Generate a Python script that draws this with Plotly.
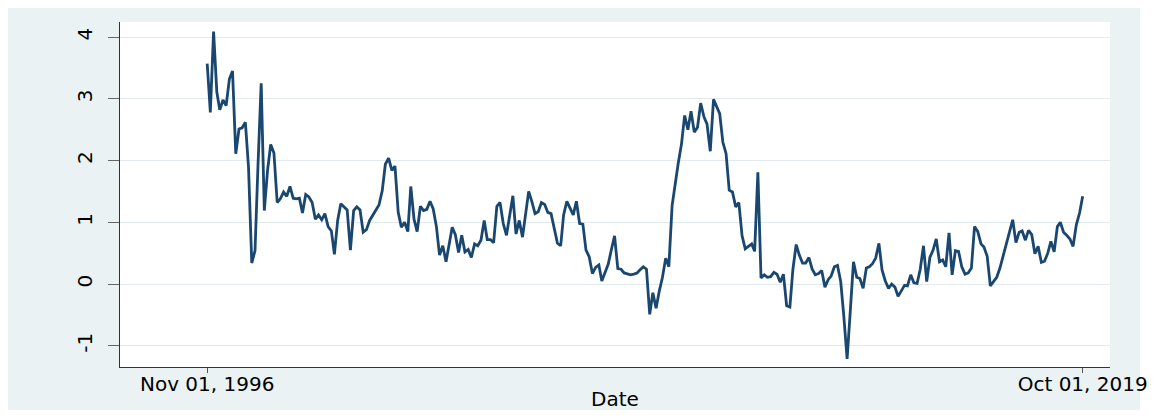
import pandas as pd
import plotly.graph_objects as go

# ---- data (monthly, Nov 1996 .. Oct 2019) ----
start_date = "1996-11-01"
values = [
    3.57, 2.78, 4.09, 3.11, 2.82, 2.98, 2.89, 3.32, 3.45, 2.11,
    2.51, 2.53, 2.62, 1.89, 0.34, 0.54, 1.90, 3.25, 1.19, 1.84,
    2.26, 2.12, 1.32, 1.38, 1.49, 1.42, 1.58, 1.39, 1.38, 1.39,
    1.15, 1.45, 1.41, 1.32, 1.05, 1.12, 1.04, 1.14, 0.93, 0.86,
    0.48, 1.03, 1.30, 1.24, 1.20, 0.55, 1.19, 1.25, 1.20, 0.84,
    0.88, 1.03, 1.11, 1.19, 1.28, 1.51, 1.94, 2.04, 1.84, 1.91,
    1.16, 0.92, 1.00, 0.85, 1.58, 1.05, 0.85, 1.26, 1.19, 1.21,
    1.34, 1.22, 0.93, 0.47, 0.62, 0.36, 0.64, 0.92, 0.80, 0.51,
    0.79, 0.52, 0.56, 0.43, 0.65, 0.62, 0.71, 1.03, 0.72, 0.72,
    0.67, 1.26, 1.32, 0.98, 0.79, 1.10, 1.43, 0.81, 1.03, 0.76,
    1.15, 1.50, 1.34, 1.14, 1.17, 1.32, 1.29, 1.16, 1.14, 0.90,
    0.66, 0.62, 1.12, 1.34, 1.24, 1.12, 1.34, 0.98, 0.97, 0.55,
    0.44, 0.17, 0.27, 0.31, 0.05, 0.20, 0.32, 0.56, 0.78, 0.25,
    0.24, 0.18, 0.16, 0.15, 0.16, 0.18, 0.23, 0.28, 0.24, -0.49,
    -0.14, -0.39, -0.11, 0.11, 0.42, 0.28, 1.27, 1.68, 1.96, 2.27,
    2.73, 2.50, 2.80, 2.46, 2.54, 2.93, 2.71, 2.59, 2.15, 2.99,
    2.89, 2.76, 2.30, 2.11, 1.52, 1.49, 1.25, 1.32, 0.78, 0.57,
    0.61, 0.65, 0.53, 1.81, 0.10, 0.15, 0.11, 0.12, 0.19, 0.16,
    0.03, 0.16, -0.35, -0.37, 0.24, 0.64,
    0.47, 0.34, 0.34, 0.43, 0.24, 0.15, 0.17, 0.22, -0.05, 0.07,
    0.13, 0.28, 0.30, 0.04, -0.53, -1.21, -0.42, 0.36, 0.11, 0.09,
    -0.07, 0.26, 0.28, 0.33, 0.42, 0.66, 0.23, 0.05, -0.07, 0.00,
    -0.05, -0.20, -0.11, -0.02, -0.03, 0.15, 0.02, 0.01, 0.24, 0.62,
    0.04, 0.43, 0.55, 0.73, 0.36, 0.39, 0.28, 0.83, 0.15, 0.54,
    0.53, 0.28, 0.16, 0.18, 0.26, 0.93, 0.85, 0.65, 0.60, 0.45,
    -0.03, 0.04, 0.11, 0.26, 0.46, 0.69, 0.88, 1.04, 0.67, 0.84,
    0.86, 0.71, 0.87, 0.80, 0.49, 0.61, 0.35, 0.37, 0.50, 0.69,
    0.52, 0.93, 1.00, 0.84, 0.79, 0.73, 0.61, 0.96, 1.15, 1.42,
]
dates = pd.date_range(start_date, periods=len(values), freq="MS")

x_tick_vals = ["1996-11-01", "2019-10-01"]
x_tick_text = ["Nov 01, 1996", "Oct 01, 2019"]
y_tick_vals = [-1, 0, 1, 2, 3, 4]
y_tick_text = ["-1", "0", "1", "2", "3", "4"]
x_title = "Date"

# ---- layout geometry (page pixels; the page body adds an 8px margin) ----
OFF = 8
PAGE_W, PAGE_H = 1173, 418
W, H = PAGE_W - 2 * OFF, PAGE_H - 2 * OFF   # figure fits the window exactly
def fx(p):  # page x -> figure x
    return p - OFF
def fy(p):
    return p - OFF

L, R, T, B = fx(120), fx(1110), fy(22), fy(367)          # plot area edges
BG_L, BG_R, BG_T, BG_B = fx(7), fx(1140), fy(7), fy(417)  # outer graph region
TICK0_PX, TICK1_PX = fx(207.2), fx(1082.7)
TITLE_Y = fy(399)

t0 = pd.Timestamp(x_tick_vals[0])
t1 = pd.Timestamp(x_tick_vals[1])
per_px = (t1 - t0) / (TICK1_PX - TICK0_PX)
x_range = [(t0 - (TICK0_PX - L) * per_px).strftime("%Y-%m-%d %H:%M:%S"),
           (t1 + (R - TICK1_PX) * per_px).strftime("%Y-%m-%d %H:%M:%S")]
y_range = [-1.343, 4.243]

pw, ph = R - L, B - T
def px_x(p):
    return (p - L) / pw
def px_y(p):
    return (B - p) / ph

BG = "#EAF2F3"
NAVY = "#1A476F"
FONT = "DejaVu Sans"

fig = go.Figure()
fig.add_trace(go.Scatter(x=dates, y=values, mode="lines",
                         line=dict(color=NAVY, width=2.8),
                         hoverinfo="skip", showlegend=False))

fig.update_layout(
    width=W, height=H,
    margin=dict(l=L, r=W - R, t=T, b=H - B, pad=0),
    paper_bgcolor="white", plot_bgcolor="white",
    font=dict(family=FONT, color="black", size=20),
    shapes=[
        dict(type="rect", xref="paper", yref="paper", layer="below",
             x0=px_x(BG_L), x1=px_x(BG_R), y0=px_y(BG_B), y1=px_y(BG_T),
             fillcolor=BG, line=dict(width=0)),
        dict(type="rect", xref="paper", yref="paper", layer="below",
             x0=0, x1=1, y0=0, y1=1, fillcolor="white", line=dict(width=0)),
    ],
    annotations=[
        dict(text=x_title, xref="paper", yref="paper", x=0.5, y=px_y(TITLE_Y),
             xanchor="center", yanchor="middle", showarrow=False,
             font=dict(family=FONT, size=20, color="black")),
    ],
)
fig.update_xaxes(
    type="date", range=x_range,
    tickmode="array", tickvals=x_tick_vals, ticktext=x_tick_text,
    ticks="outside", ticklen=5, tickwidth=1.2, tickcolor="#555",
    ticklabelstandoff=-6,
    showgrid=False, zeroline=False,
    showline=True, linecolor="#333", linewidth=1.3,
    tickfont=dict(family=FONT, size=20, color="black"),
)
fig.update_yaxes(
    range=y_range,
    tickmode="array", tickvals=y_tick_vals, ticktext=y_tick_text,
    ticks="outside", ticklen=11, tickwidth=1.2, tickcolor="#666",
    tickangle=-90, ticklabelstandoff=8,
    showgrid=True, gridcolor="#E1EAEE", gridwidth=1.3,
    zeroline=False,
    showline=True, linecolor="#333", linewidth=1.3,
    tickfont=dict(family=FONT, size=20, color="black"),
)

fig.write_html("out.html")
